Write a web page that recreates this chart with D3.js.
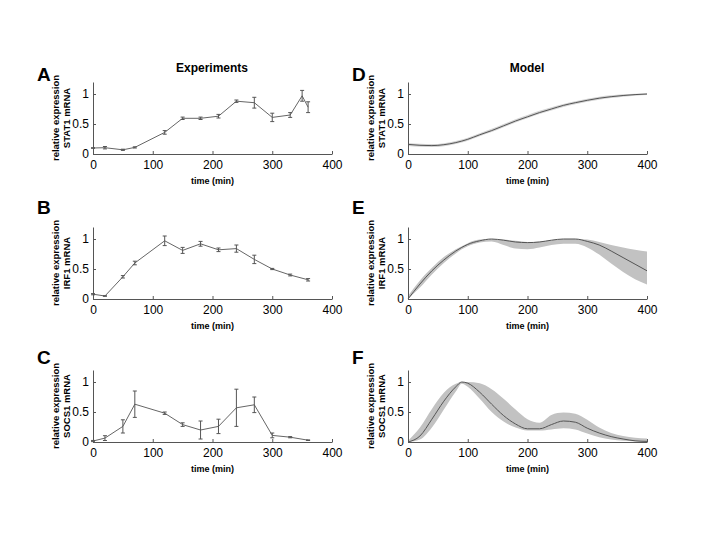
<!DOCTYPE html>
<html>
<head>
<meta charset="utf-8">
<script src="https://cdn.jsdelivr.net/npm/d3@7"></script>
<style>
  body { margin: 0; background: #fff; }
  svg text { font-family: Arial, "Liberation Sans", sans-serif; }
</style>
</head>
<body>
<div id="chart"></div>
<script>
// experiment sampling times (STAT1 has an extra point at 350 min)
const stat1Time = [0, 20, 50, 70, 120, 150, 180, 210, 240, 270, 300, 330, 350, 360]
const expTime = [0, 20, 50, 70, 120, 150, 180, 210, 240, 270, 300, 330, 360]

const stat1Exp = [0.10, 0.105, 0.07, 0.11, 0.36, 0.595, 0.595, 0.63, 0.88, 0.855, 0.61, 0.65, 0.97, 0.78]
const stat1Err = [0.005, 0.02, 0.01, 0.01, 0.03, 0.02, 0.02, 0.03, 0.02, 0.09, 0.07, 0.04, 0.09, 0.09]

const irf1Exp = [0.08, 0.05, 0.37, 0.60, 0.97, 0.81, 0.92, 0.82, 0.84, 0.66, 0.50, 0.40, 0.32]
const irf1Err = [0.01, 0.005, 0.02, 0.03, 0.08, 0.05, 0.04, 0.03, 0.06, 0.07, 0.01, 0.015, 0.02]

const socs1Exp = [0.016, 0.065, 0.26, 0.63, 0.48, 0.29, 0.20, 0.26, 0.57, 0.62, 0.11, 0.08, 0.03]
const socs1Err = [0.01, 0.04, 0.11, 0.22, 0.02, 0.03, 0.15, 0.12, 0.31, 0.13, 0.04, 0.01, 0.005]

// model simulation times
const modelTime = [0, 20, 40, 60, 80, 90, 100, 120, 140, 160, 180, 200, 220, 240, 260, 280, 300, 320, 340, 360, 380, 400]

const stat1Mean = [0.16, 0.145, 0.14, 0.155, 0.19, 0.215, 0.245, 0.32, 0.39, 0.47, 0.55, 0.62, 0.69, 0.75, 0.81, 0.855, 0.895, 0.93, 0.955, 0.975, 0.99, 1.0]
const stat1Lo = [0.135, 0.12, 0.115, 0.13, 0.165, 0.19, 0.22, 0.295, 0.365, 0.445, 0.525, 0.595, 0.665, 0.725, 0.785, 0.83, 0.87, 0.905, 0.932, 0.955, 0.972, 0.985]
const stat1Hi = [0.185, 0.17, 0.165, 0.18, 0.215, 0.24, 0.27, 0.345, 0.42, 0.50, 0.58, 0.65, 0.72, 0.78, 0.835, 0.88, 0.92, 0.955, 0.978, 0.995, 1.005, 1.012]

const irf1Mean = [0, 0.25, 0.47, 0.65, 0.80, 0.86, 0.91, 0.97, 1.0, 0.98, 0.95, 0.94, 0.95, 0.98, 1.0, 1.0, 0.96, 0.90, 0.80, 0.69, 0.58, 0.47]
const irf1Lo = [0, 0.19, 0.41, 0.60, 0.76, 0.83, 0.88, 0.94, 0.96, 0.90, 0.84, 0.83, 0.86, 0.90, 0.92, 0.92, 0.86, 0.74, 0.59, 0.45, 0.33, 0.24]
const irf1Hi = [0.05, 0.31, 0.52, 0.70, 0.83, 0.88, 0.93, 0.99, 1.0, 0.99, 0.97, 0.95, 0.96, 0.98, 1.0, 1.0, 0.99, 0.95, 0.90, 0.86, 0.82, 0.79]

const socs1Mean = [0, 0.10, 0.38, 0.68, 0.92, 1.0, 0.98, 0.83, 0.63, 0.44, 0.30, 0.22, 0.22, 0.29, 0.35, 0.33, 0.23, 0.15, 0.09, 0.05, 0.02, 0.01]
const socs1Lo = [0, 0.04, 0.24, 0.54, 0.84, 0.97, 0.92, 0.72, 0.50, 0.34, 0.24, 0.19, 0.19, 0.21, 0.23, 0.21, 0.14, 0.08, 0.04, 0.02, 0.01, 0]
const socs1Hi = [0.02, 0.24, 0.55, 0.82, 0.97, 1.0, 1.0, 0.98, 0.88, 0.72, 0.54, 0.38, 0.32, 0.45, 0.49, 0.47, 0.37, 0.24, 0.15, 0.10, 0.07, 0.06]

const xTicks = [0, 100, 200, 300, 400]
const yTicks = [0, 0.5, 1]

const width = 720
const height = 540

// layout
const colLeft = [93, 408]
const plotW = 239
const rowBottom = [154, 299, 442]
const plotH = 72
const letterBase = [81, 214, 364]

const panels = [
  { letter: 'A', col: 0, row: 0, gene: 'STAT1 mRNA', t: stat1Time, v: stat1Exp, e: stat1Err },
  { letter: 'B', col: 0, row: 1, gene: 'IRF1 mRNA', t: expTime, v: irf1Exp, e: irf1Err },
  { letter: 'C', col: 0, row: 2, gene: 'SOCS1 mRNA', t: expTime, v: socs1Exp, e: socs1Err },
  { letter: 'D', col: 1, row: 0, gene: 'STAT1 mRNA', t: modelTime, v: stat1Mean, lo: stat1Lo, hi: stat1Hi },
  { letter: 'E', col: 1, row: 1, gene: 'IRF1 mRNA', t: modelTime, v: irf1Mean, lo: irf1Lo, hi: irf1Hi },
  { letter: 'F', col: 1, row: 2, gene: 'SOCS1 mRNA', t: modelTime, v: socs1Mean, lo: socs1Lo, hi: socs1Hi }
]

const svg = d3.select('#chart').append('svg')
  .attr('width', width)
  .attr('height', height)

svg.append('rect').attr('width', width).attr('height', height).attr('fill', '#fff')

svg.append('text')
  .attr('x', 212).attr('y', 72)
  .attr('text-anchor', 'middle')
  .style('font-size', '12px').style('font-weight', 'bold')
  .text('Experiments')

svg.append('text')
  .attr('x', 527).attr('y', 72)
  .attr('text-anchor', 'middle')
  .style('font-size', '12px').style('font-weight', 'bold')
  .text('Model')

panels.forEach(p => {
  const x0 = colLeft[p.col]
  const y0 = rowBottom[p.row] - plotH

  const x = d3.scaleLinear().domain([0, 400]).range([0, plotW])
  const y = d3.scaleLinear().domain([0, 1.2]).range([plotH, 0])

  const g = svg.append('g').attr('transform', `translate(${x0},${y0})`)

  // panel letter
  svg.append('text')
    .attr('x', x0 - 56).attr('y', letterBase[p.row])
    .style('font-size', '19px').style('font-weight', 'bold')
    .text(p.letter)

  const idx = d3.range(p.t.length)

  if (p.lo) {
    g.append('path')
      .attr('d', d3.area()
        .x(i => x(p.t[i]))
        .y0(i => y(p.lo[i]))
        .y1(i => y(p.hi[i]))
        .curve(d3.curveMonotoneX)(idx))
      .attr('fill', p.row === 0 ? '#d4d4d4' : '#c2c2c2')
    g.append('path')
      .attr('d', d3.line()
        .x(i => x(p.t[i]))
        .y(i => y(p.v[i]))
        .curve(d3.curveMonotoneX)(idx))
      .attr('fill', 'none')
      .attr('stroke', '#555')
      .attr('stroke-width', 1)
  } else {
    g.append('path')
      .attr('d', d3.line()
        .x(i => x(p.t[i]))
        .y(i => y(p.v[i]))(idx))
      .attr('fill', 'none')
      .attr('stroke', '#666')
      .attr('stroke-width', 1)

    const bars = g.selectAll('.eb')
      .data(idx)
      .enter()
      .append('g')
        .attr('stroke', '#555')
        .attr('stroke-width', 1)
    bars.append('line')
      .attr('x1', i => x(p.t[i])).attr('x2', i => x(p.t[i]))
      .attr('y1', i => y(p.v[i] - p.e[i])).attr('y2', i => y(p.v[i] + p.e[i]))
    bars.append('line')
      .attr('x1', i => x(p.t[i]) - 2).attr('x2', i => x(p.t[i]) + 2)
      .attr('y1', i => y(p.v[i] - p.e[i])).attr('y2', i => y(p.v[i] - p.e[i]))
    bars.append('line')
      .attr('x1', i => x(p.t[i]) - 2).attr('x2', i => x(p.t[i]) + 2)
      .attr('y1', i => y(p.v[i] + p.e[i])).attr('y2', i => y(p.v[i] + p.e[i]))
  }

  // axes, MATLAB style: inward ticks, no box
  const xAxis = g.append('g')
    .attr('transform', `translate(0,${plotH})`)
    .call(d3.axisBottom(x).tickValues(xTicks).tickSizeInner(-3).tickSizeOuter(0).tickPadding(6))
  const yAxis = g.append('g')
    .call(d3.axisLeft(y).tickValues(yTicks).tickFormat(d => String(d)).tickSizeInner(-3).tickSizeOuter(0).tickPadding(4))

  ;[xAxis, yAxis].forEach(a => {
    a.select('.domain').attr('stroke', '#555')
    a.selectAll('.tick line').attr('stroke', '#555')
    a.selectAll('.tick text')
      .style('font-size', '12px')
      .style('font-family', 'Arial, "Liberation Sans", sans-serif')
      .attr('fill', '#000')
  })

  // axis labels
  g.append('text')
    .attr('x', plotW / 2).attr('y', plotH + 30)
    .attr('text-anchor', 'middle')
    .style('font-size', '9px').style('font-weight', 'bold')
    .text('time (min)')

  g.append('text')
    .attr('transform', `translate(-34,${plotH / 2}) rotate(-90)`)
    .attr('text-anchor', 'middle')
    .style('font-size', '9.5px').style('font-weight', 'bold')
    .text('relative expression')

  g.append('text')
    .attr('transform', `translate(-23,${plotH / 2}) rotate(-90)`)
    .attr('text-anchor', 'middle')
    .style('font-size', '9.5px').style('font-weight', 'bold')
    .text(p.gene)
})
</script>
</body>
</html>
